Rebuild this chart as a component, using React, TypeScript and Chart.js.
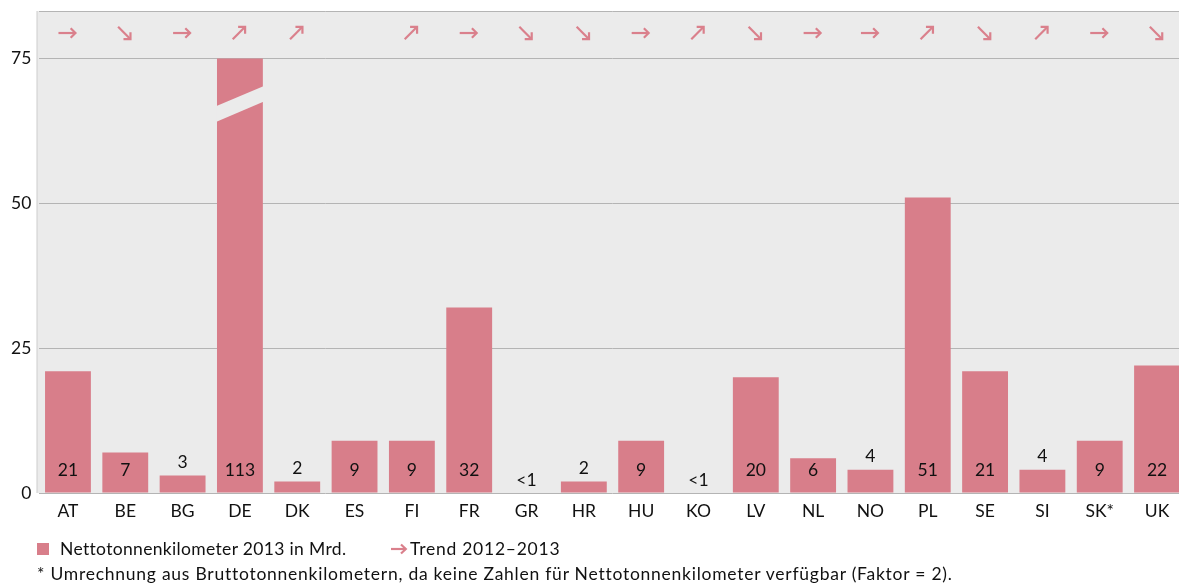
import React, { useEffect, useRef } from 'react';
import { Chart, registerables } from 'chart.js';

Chart.register(...registerables);

const categories = ['AT', 'BE', 'BG', 'DE', 'DK', 'ES', 'FI', 'FR', 'GR', 'HR', 'HU', 'KO', 'LV', 'NL', 'NO', 'PL', 'SE', 'SI', 'SK*', 'UK'];
const values = [21, 7, 3, 113, 2, 9, 9, 32, 0, 2, 9, 0, 20, 6, 4, 51, 21, 4, 9, 22];
const valueLabels = ['21', '7', '3', '113', '2', '9', '9', '32', '<1', '2', '9', '<1', '20', '6', '4', '51', '21', '4', '9', '22'];
const trends = ['→', '↘', '→', '↗', '↗', '', '↗', '→', '↘', '↘', '→', '↗', '↘', '→', '→', '↗', '↘', '↗', '→', '↘'];
const yTicks = [0, 25, 50, 75];
const axisCap = 75;
const yMax = 83.2;
const trendRowValue = 79.4;
const breakValue = 67.15;

const BAR = 'rgb(216,126,138)';
const ARROW = 'rgb(218,128,140)';
const BG = 'rgb(235,235,235)';
const GRID = 'rgb(180,180,180)';
const TEXT = '#111';
const FONT = 'Lato, "Open Sans", sans-serif';

const trendAngle: Record<string, number> = { '→': 0, '↘': Math.PI / 4, '↗': -Math.PI / 4 };

function drawArrow(ctx: CanvasRenderingContext2D, cx: number, cy: number, angle: number, len: number) {
  ctx.save();
  ctx.translate(cx, cy);
  ctx.rotate(angle);
  ctx.strokeStyle = ARROW;
  ctx.lineWidth = 2.2;
  ctx.lineCap = 'butt';
  ctx.lineJoin = 'miter';
  const h = len / 2;
  const head = len * 0.4;
  ctx.beginPath();
  ctx.moveTo(-h, 0);
  ctx.lineTo(h - 1, 0);
  ctx.stroke();
  ctx.beginPath();
  ctx.moveTo(h - head * 0.707, -head * 0.707);
  ctx.lineTo(h, 0);
  ctx.lineTo(h - head * 0.707, head * 0.707);
  ctx.stroke();
  ctx.restore();
}

export default function App() {
  const ref = useRef<HTMLCanvasElement | null>(null);

  useEffect(() => {
    document.body.style.margin = '0';
    document.body.style.overflow = 'hidden';
    const canvas = ref.current;
    if (!canvas) return;

    const bgPlugin = {
      id: 'bgPlugin',
      beforeDraw(chart: any) {
        const { ctx, chartArea } = chart;
        ctx.save();
        ctx.fillStyle = BG;
        ctx.fillRect(chartArea.left - 2.3, chartArea.top, chartArea.right - chartArea.left + 2.3, chartArea.bottom - chartArea.top);
        ctx.strokeStyle = 'rgb(205,205,205)';
        ctx.lineWidth = 1;
        ctx.beginPath();
        ctx.moveTo(chartArea.left - 2.3, chartArea.top);
        ctx.lineTo(chartArea.left - 2.3, chartArea.bottom);
        ctx.stroke();
        ctx.restore();
      },
    };

    const overlayPlugin = {
      id: 'overlayPlugin',
      afterDatasetsDraw(chart: any) {
        const { ctx } = chart;
        const yScale = chart.scales.y;
        const meta = chart.getDatasetMeta(0);
        ctx.save();
        meta.data.forEach((el: any, i: number) => {
          if (values[i] > axisCap) {
            const w = el.width;
            const yc = yScale.getPixelForValue(breakValue);
            const slope = 20 / 47;
            const half = 7.85;
            const xl = el.x - w / 2 - 0.5;
            const xr = el.x + w / 2 + 0.5;
            ctx.fillStyle = BG;
            ctx.beginPath();
            ctx.moveTo(xl, yc - half + slope * (el.x - xl));
            ctx.lineTo(xr, yc - half - slope * (xr - el.x));
            ctx.lineTo(xr, yc + half - slope * (xr - el.x));
            ctx.lineTo(xl, yc + half + slope * (el.x - xl));
            ctx.closePath();
            ctx.fill();
          }
          ctx.fillStyle = TEXT;
          ctx.font = `17.5px ${FONT}`;
          ctx.textAlign = 'center';
          ctx.textBaseline = 'middle';
          const y = values[i] >= 5 ? yScale.bottom - 23 : el.y - 13;
          ctx.fillText(valueLabels[i], el.x, y);
          const t = trends[i];
          if (t && trendAngle[t] !== undefined) {
            const len = t === '→' ? 17 : 17.5;
            drawArrow(ctx, el.x - 1, yScale.getPixelForValue(trendRowValue), trendAngle[t], len);
          }
        });
        ctx.restore();
      },
    };

    const chart = new Chart(canvas, {
      type: 'bar',
      data: {
        labels: categories,
        datasets: [
          {
            label: 'Nettotonnenkilometer 2013 in Mrd.',
            data: values.map((v) => Math.min(v, axisCap)),
            backgroundColor: BAR,
            borderWidth: 0,
            barPercentage: 0.8,
            categoryPercentage: 1,
          },
        ],
      },
      options: {
        responsive: false,
        animation: false,
        layout: { padding: { left: 0, right: 14.3, top: 11, bottom: 61 } },
        plugins: {
          legend: { display: false },
          tooltip: { enabled: false },
        },
        scales: {
          x: {
            grid: { display: false, drawTicks: false },
            border: { display: false },
            ticks: {
              color: TEXT,
              font: { family: FONT, size: 17.5 },
              padding: 8,
              maxRotation: 0,
              autoSkip: false,
            },
            afterFit(scale: any) {
              scale.height = 30;
              scale.paddingLeft = 0;
              scale.paddingRight = 0;
            },
          },
          y: {
            min: 0,
            max: yMax,
            grid: { color: GRID, lineWidth: 1, drawTicks: false },
            border: { display: false },
            afterBuildTicks(scale: any) {
              scale.ticks = [...yTicks, yMax].map((v) => ({ value: v }));
            },
            ticks: {
              color: TEXT,
              font: { family: FONT, size: 17.5 },
              padding: 8,
              callback: (v: any) => (yTicks.includes(Number(v)) ? String(v) : ''),
            },
            afterFit(scale: any) {
              scale.width = 39.3;
              scale.paddingTop = 0;
              scale.paddingBottom = 0;
            },
          },
        },
      },
      plugins: [bgPlugin, overlayPlugin],
    });

    return () => chart.destroy();
  }, []);

  const textStyle: React.CSSProperties = {
    position: 'absolute',
    fontFamily: FONT,
    fontSize: 17.5,
    lineHeight: '20px',
    color: TEXT,
    whiteSpace: 'nowrap',
  };

  return (
    <div style={{ position: 'fixed', left: 0, top: 0, width: 1200, height: 584, overflow: 'hidden', background: '#fff' }}>
      <canvas ref={ref} width={1200} height={584} style={{ position: 'absolute', left: 0, top: 0, width: 1200, height: 584 }} />
      <div style={{ position: 'absolute', left: 37, top: 543, width: 12, height: 12, background: BAR }} />
      <div style={{ ...textStyle, left: 60, top: 539, letterSpacing: 0.33 }}>Nettotonnenkilometer 2013 in Mrd.</div>
      <svg style={{ position: 'absolute', left: 390, top: 541 }} width={18} height={16} viewBox="0 0 18 16">
        <path d="M1 8 L15.5 8" stroke={ARROW} strokeWidth={2.2} fill="none" />
        <path d="M11 3.5 L15.8 8 L11 12.5" stroke={ARROW} strokeWidth={2.2} fill="none" />
      </svg>
      <div style={{ ...textStyle, left: 410, top: 539, letterSpacing: 0.75 }}>Trend 2012–2013</div>
      <div style={{ ...textStyle, left: 37, top: 564, letterSpacing: 0.75 }}>
        * Umrechnung aus Bruttotonnenkilometern, da keine Zahlen für Nettotonnenkilometer verfügbar (Faktor = 2).
      </div>
    </div>
  );
}
